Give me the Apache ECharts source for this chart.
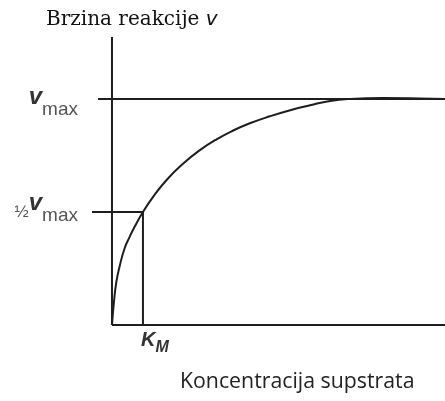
<!DOCTYPE html>
<html>
<head>
<meta charset="utf-8">
<script src="https://cdn.jsdelivr.net/npm/echarts@6/dist/echarts.min.js"></script>
<style>
html,body{margin:0;padding:0;background:#fff;}
#c{width:445px;height:401px;}
</style>
</head>
<body>
<div id="c"></div>
<script>
// Substrate concentration (x) and reaction rate (y), relative units (v/vmax)
var concentration = [0, 0.06, 0.13, 0.23, 0.38, 0.53, 0.68, 0.93, 1.24, 1.64, 2.14, 2.64, 3.14, 3.64, 4.14, 4.74, 5.35, 5.95, 6.55, 7.15, 8.14, 9.25, 10];
var rate = [0, 0.103, 0.19, 0.26, 0.34, 0.39, 0.435, 0.5, 0.568, 0.642, 0.715, 0.774, 0.822, 0.861, 0.893, 0.924, 0.951, 0.973, 0.992, 1.001, 1.005, 1.003, 1.0];
var kmValue = 0.93;
var vmaxValue = 1;
var halfVmaxValue = 0.5;
var xMin = -0.6, xMax = 10;
var yMin = 0, yMax = 1.275;
var vmaxLineStart = -0.42;
var halfLineStart = -0.6;
var yTickValues = [halfVmaxValue, vmaxValue];
var xTickValues = [kmValue];
var titleText = 'Brzina reakcije ';
var xAxisTitle = 'Koncentracija supstrata';

var lineColor = '#1e1e1e';
function seg(points) {
  return {
    type: 'line', data: points, showSymbol: false, silent: true,
    lineStyle: { color: lineColor, width: 2 }, animation: false, z: 2
  };
}
var curveData = concentration.map(function (c, i) { return [c, rate[i]]; });

var sans = 'Liberation Sans';
var chart = echarts.init(document.getElementById('c'), null, { renderer: 'canvas' });
chart.setOption({
  backgroundColor: '#fff',
  animation: false,
  title: [
    {
      text: '{t|' + titleText + '}{v|v}',
      left: 41, top: 5,
      textStyle: {
        rich: {
          t: { fontFamily: 'DejaVu Serif', fontWeight: 'normal', fontSize: 20, color: '#111' },
          v: { fontFamily: 'DejaVu Sans', fontWeight: 'normal', fontStyle: 'italic', fontSize: 20, color: '#111' }
        }
      }
    },
    {
      text: xAxisTitle,
      left: 175, top: 366,
      textStyle: { fontFamily: 'Open Sans', fontWeight: 'normal', fontSize: 21.3, color: '#222' }
    }
  ],
  grid: { left: 92, right: 0, top: 37, bottom: 76, containLabel: false },
  xAxis: {
    type: 'value', min: xMin, max: xMax,
    axisLine: { show: false }, axisTick: { show: false }, splitLine: { show: false },
    axisLabel: {
      customValues: xTickValues, margin: 7, align: 'left', padding: [0, 0, 0, -2],
      formatter: function () { return '{k|K}{m|M}'; },
      rich: {
        k: { fontFamily: sans, fontStyle: 'italic', fontWeight: 'bold', fontSize: 20, color: '#333', verticalAlign: 'middle', lineHeight: 20, padding: [0, 0, 4, 0] },
        m: { fontFamily: sans, fontStyle: 'italic', fontWeight: 'bold', fontSize: 16, color: '#333', verticalAlign: 'middle', lineHeight: 16, padding: [12, 0, 0, 0] }
      }
    }
  },
  yAxis: {
    type: 'value', min: yMin, max: yMax,
    axisLine: { show: false }, axisTick: { show: false }, splitLine: { show: false },
    axisLabel: {
      customValues: yTickValues, margin: 14,
      formatter: function (v) {
        return v === vmaxValue ? '{v1|v}{m1|max}' : '{h|½}{v2|v}{m2|max}';
      },
      rich: {
        h: { fontFamily: sans, fontSize: 17, color: '#555', verticalAlign: 'middle', lineHeight: 17 },
        v1: { fontFamily: sans, fontStyle: 'italic', fontWeight: 'bold', fontSize: 24, color: '#333', verticalAlign: 'middle', lineHeight: 24, padding: [0, 0, 4, 0] },
        m1: { fontFamily: sans, fontSize: 19, color: '#555', verticalAlign: 'middle', lineHeight: 19, padding: [21, 0, 0, 0] },
        v2: { fontFamily: sans, fontStyle: 'italic', fontWeight: 'bold', fontSize: 24, color: '#333', verticalAlign: 'middle', lineHeight: 24, padding: [0, 0, 17, 0] },
        m2: { fontFamily: sans, fontSize: 19, color: '#555', verticalAlign: 'middle', lineHeight: 19, padding: [7, 0, 0, 0] }
      }
    }
  },
  series: [
    {
      type: 'line', data: curveData, showSymbol: false, smooth: 0.5,
      lineStyle: { color: lineColor, width: 2 }, silent: true, z: 3
    },
    seg([[0, yMin], [0, yMax]]),
    seg([[0, yMin], [xMax, yMin]]),
    seg([[vmaxLineStart, vmaxValue], [xMax, vmaxValue]]),
    seg([[halfLineStart, halfVmaxValue], [kmValue, halfVmaxValue]]),
    seg([[kmValue, yMin], [kmValue, halfVmaxValue]])
  ]
});
</script>
</body>
</html>
